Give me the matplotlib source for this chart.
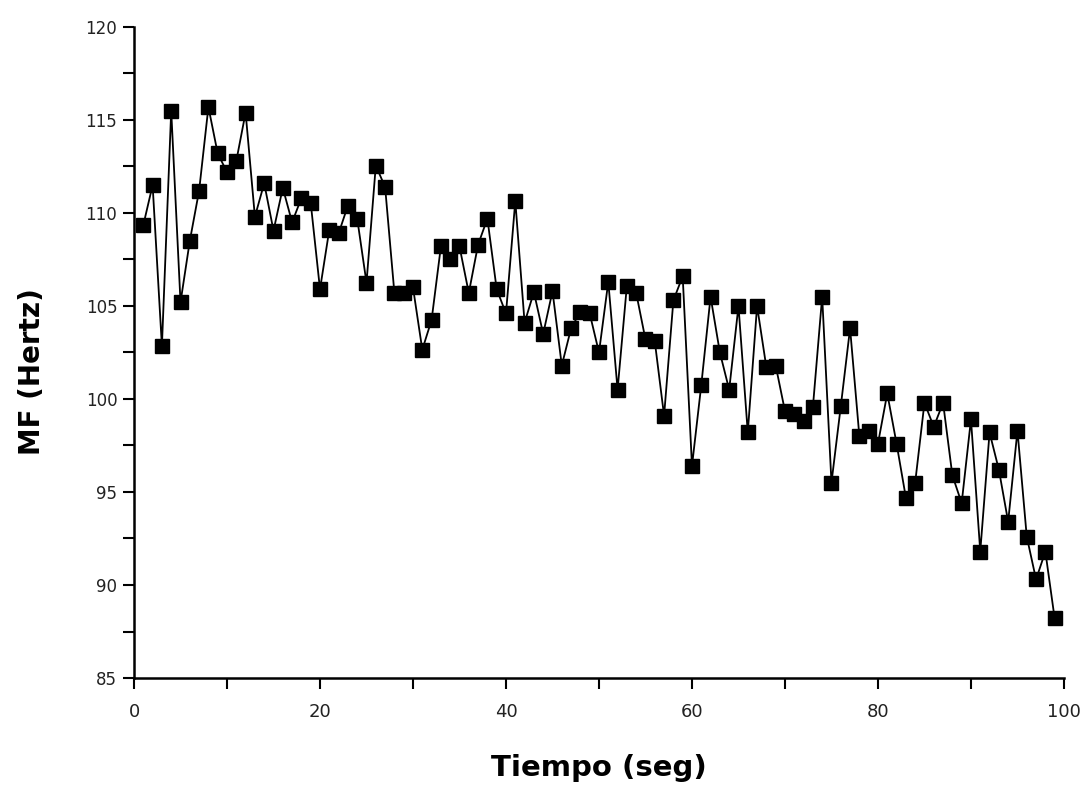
import matplotlib
matplotlib.use("Agg")
import matplotlib.pyplot as plt
from matplotlib.ticker import MultipleLocator

tiempo = list(range(1, 100))
mf = [109.35, 111.5, 102.85, 115.5, 105.2, 108.5, 111.2, 115.7, 113.2, 112.2,
      112.8, 115.4, 109.8, 111.6, 109.05, 111.35, 109.5, 110.8, 110.55, 105.9,
      109.1, 108.9, 110.4, 109.7, 106.25, 112.55, 111.4, 105.7, 105.7, 106.0,
      102.65, 104.25, 108.2, 107.5, 108.2, 105.7, 108.3, 109.7, 105.9, 104.6,
      110.65, 104.1, 105.75, 103.5, 105.8, 101.8, 103.8, 104.7, 104.6, 102.5,
      106.3, 100.5, 106.1, 105.7, 103.2, 103.1, 99.1, 105.3, 106.6, 96.4,
      100.75, 105.5, 102.5, 100.5, 105.0, 98.2, 105.0, 101.7, 101.8, 99.35,
      99.2, 98.8, 99.55, 105.5, 95.5, 99.6, 103.8, 98.0, 98.3, 97.6,
      100.3, 97.6, 94.7, 95.5, 99.8, 98.5, 99.8, 95.9, 94.4, 98.9,
      91.8, 98.2, 96.2, 93.4, 98.3, 92.6, 90.3, 91.8, 88.2]

x_ticks = [0, 20, 40, 60, 80, 100]
x_tick_labels = ["0", "20", "40", "60", "80", "100"]
y_ticks = [85, 90, 95, 100, 105, 110, 115, 120]

fig = plt.figure(figsize=(10.86, 7.87), dpi=100)
ax = fig.add_axes([0.1234, 0.1385, 0.8563, 0.8272])

ax.plot(tiempo, mf, color="black", linewidth=1.3, marker="s",
        markersize=9.5, markerfacecolor="black", markeredgecolor="black")

ax.set_xlim(0, 100)
ax.set_ylim(85, 120)
ax.set_xticks(x_ticks)
ax.set_xticklabels(x_tick_labels)
ax.set_yticks(y_ticks)
ax.xaxis.set_minor_locator(MultipleLocator(10))
ax.yaxis.set_minor_locator(MultipleLocator(2.5))

for s in ["top", "right"]:
    ax.spines[s].set_visible(False)
for s in ["left", "bottom"]:
    ax.spines[s].set_linewidth(1.8)

ax.tick_params(axis="both", which="both", direction="out", length=8,
               width=1.5, color="black")
ax.tick_params(axis="y", which="major", labelsize=12, pad=4, labelcolor="#222222")
ax.tick_params(axis="x", which="major", labelsize=13, pad=10, labelcolor="#222222")

ax.set_xlabel("Tiempo (seg)", fontsize=21, fontweight="bold", labelpad=24)
ax.set_ylabel("MF (Hertz)", fontsize=20, fontweight="bold")
ax.yaxis.set_label_coords(-0.095, 0.47)

fig.savefig("out.png", dpi=100)
